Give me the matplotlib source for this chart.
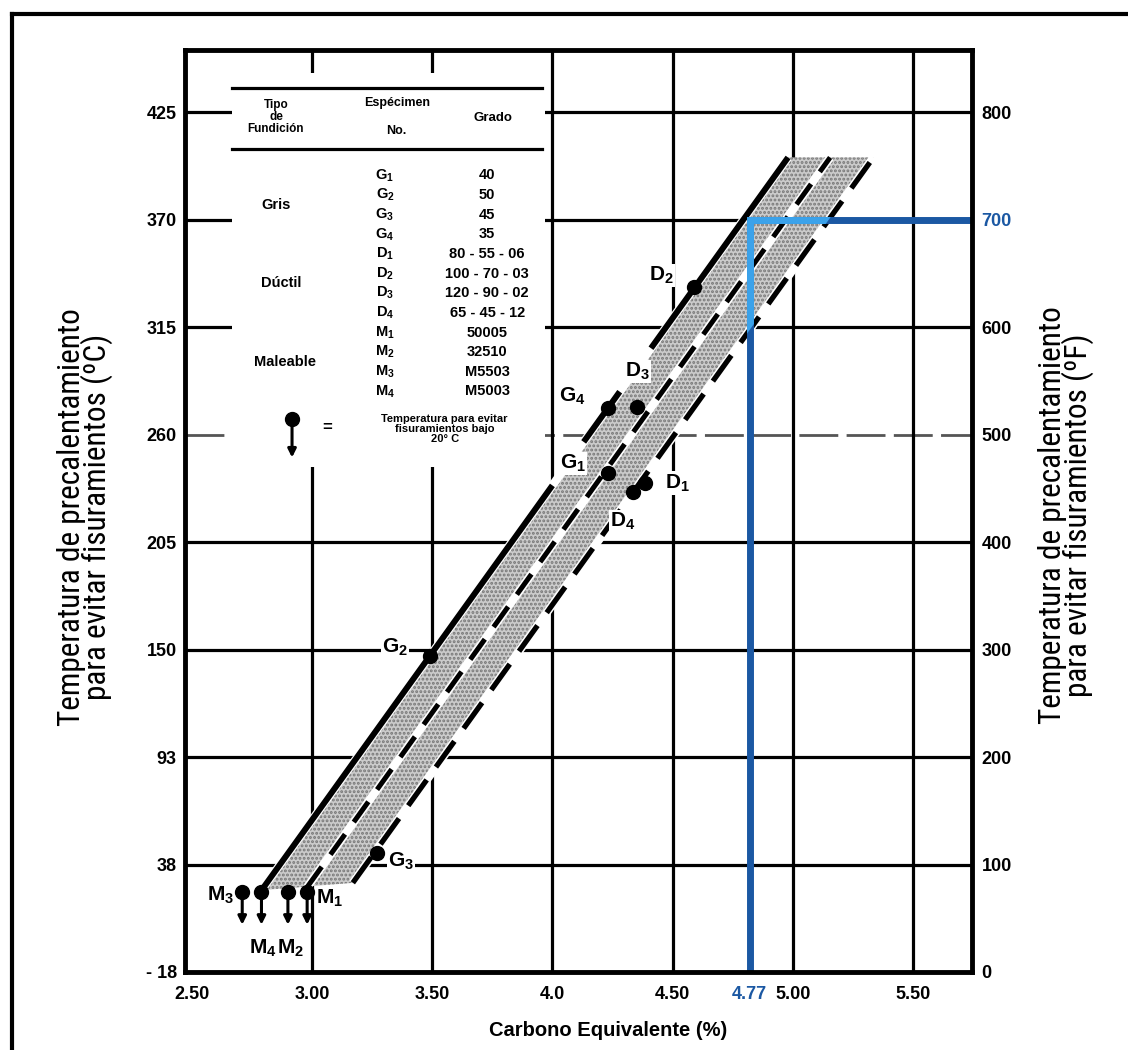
import matplotlib
matplotlib.use("Agg")
import matplotlib.pyplot as plt
import numpy as np
from matplotlib import font_manager
from matplotlib.lines import Line2D
from matplotlib.patches import Polygon, Rectangle

# ---------------------------------------------------------------------------
# Data
# ---------------------------------------------------------------------------
F_TICKS = [0, 100, 200, 300, 400, 500, 600, 700, 800]            # °F (right axis)
C_LABELS = ["- 18", "38", "93", "150", "205", "260", "315", "370", "425"]
F_LABELS = ["0", "100", "200", "300", "400", "500", "600", "700", "800"]
CE_TICKS = [2.5, 3.0, 3.5, 4.0, 4.5, 5.0, 5.5]
CE_LABELS = ["2.50", "3.00", "3.50", "4.0", "4.50", "5.00", "5.50"]

# boundary lines of the band: CE and °F at bottom / top end
UPPER_CE, UPPER_F = [2.79, 4.98], [76, 758]
MID_CE, MID_F = [2.98, 5.155], [79, 758]
LOWER_CE, LOWER_F = [3.17, 5.335], [83, 758]
UPPER_SEGMENTS = [(2.79, 4.00), (4.13, 4.28), (4.41, 4.98)]

POINT_IDS = ["G1", "G2", "G3", "G4", "D1", "D2", "D3", "D4"]
POINT_CE = [4.23, 3.49, 3.27, 4.23, 4.385, 4.59, 4.35, 4.335]
POINT_F = [464, 294, 111, 525, 455, 637, 526, 447]

M_IDS = ["M1", "M2", "M3", "M4"]
M_CE = [2.98, 2.90, 2.71, 2.79]
M_F = [74, 74, 74, 74]

# reading drawn in blue
CE_READ_LABEL = "4.77"
CE_READ_X = 4.82
F_READ = 700

# legend table
TABLE_IDS = ["G1", "G2", "G3", "G4", "D1", "D2", "D3", "D4", "M1", "M2", "M3", "M4"]
TABLE_GRADES = ["40", "50", "45", "35", "80 - 55 - 06", "100 - 70 - 03",
                "120 - 90 - 02", "65 - 45 - 12", "50005", "32510", "M5503", "M5003"]
TABLE_GROUPS = ["Gris", "Dúctil", "Maleable"]

# label offsets in pixels
LABEL_OFFSETS = {
    "G1": (-35, 10), "G2": (-35, 9), "G3": (24, -9), "G4": (-35, 11),
    "D1": (32, 0), "D2": (-33, 12), "D3": (1, 35), "D4": (-10, -30),
    "M1": (22, -6), "M2": (3, -56), "M3": (-22, -3), "M4": (1, -56),
}

BLUE_DARK = "#1b58a3"
BLUE_LIGHT = "#3ba2ea"

# condensed family for the axis titles, if one is installed
fonts = font_manager.fontManager.ttflist
names = {f.name for f in fonts}
label_font = dict(family=["DejaVu Sans"])
for cand in ["Liberation Sans Narrow", "Roboto Condensed", "Open Sans Condensed",
             "Noto Sans Display Condensed", "Arial Narrow"]:
    if cand in names:
        label_font = dict(family=[cand, "DejaVu Sans"])
        break
else:
    if any(f.name == "DejaVu Sans" and f.stretch == "condensed" for f in fonts):
        label_font = dict(family=["DejaVu Sans"], fontstretch="condensed")
    elif any(f.stretch == "condensed" and f.name in ("Noto Sans", "Open Sans", "Roboto")
             for f in fonts):
        fam = next(f.name for f in fonts if f.stretch == "condensed"
                   and f.name in ("Noto Sans", "Open Sans", "Roboto"))
        label_font = dict(family=[fam], fontstretch="condensed")

plt.rcParams["font.family"] = ["Liberation Sans", "DejaVu Sans"]
plt.rcParams["mathtext.fontset"] = "custom"
plt.rcParams["mathtext.bf"] = "Liberation Sans:bold"
plt.rcParams["mathtext.rm"] = "Liberation Sans:bold"
plt.rcParams["mathtext.default"] = "bf"
plt.rcParams["hatch.linewidth"] = 1.4


def sub(name):
    return r"$%s_{%s}$" % (name[0], name[1:])


def line_y(ce, xs, ys):
    return np.interp(ce, xs, ys)


fig = plt.figure(figsize=(11.28, 10.5), dpi=100)
ax = fig.add_axes([185 / 1128, 1 - 972 / 1050, 787 / 1128, 922 / 1050])
ax.set_xlim(2.472, 5.745)
ax.set_ylim(0, 858)

# --- grid ---
for f in F_TICKS[1:]:
    if f == 500:
        ax.axhline(f, color="#555555", lw=2.0, ls=(0, (14, 3)), zorder=1)
    else:
        ax.axhline(f, color="black", lw=2.3, zorder=1)
for ce in CE_TICKS[1:]:
    ax.axvline(ce, color="black", lw=2.3, zorder=1)

# --- band ---
band = Polygon(
    [(UPPER_CE[0], UPPER_F[0]), (UPPER_CE[1], UPPER_F[1]),
     (LOWER_CE[1], LOWER_F[1]), (LOWER_CE[0], LOWER_F[0])],
    closed=True, facecolor="#cbcbcb", edgecolor="#777777", hatch="....",
    linewidth=0, zorder=2,
)
ax.add_patch(band)

# white channels along the lines
for xs, ys in [(UPPER_CE, UPPER_F), (MID_CE, MID_F), (LOWER_CE, LOWER_F)]:
    ax.plot(xs, ys, color="white", lw=6, solid_capstyle="butt", zorder=3)

for a, b in UPPER_SEGMENTS:
    xs = np.array([a, b])
    ax.plot(xs, line_y(xs, UPPER_CE, UPPER_F), color="black", lw=4.3,
            solid_capstyle="butt", zorder=4)
ax.plot(MID_CE, MID_F, color="black", lw=3.6, ls=(0, (5, 3)),
        dash_capstyle="butt", zorder=4)
ax.plot(LOWER_CE, LOWER_F, color="black", lw=3.8, ls=(0, (6, 3)),
        dash_capstyle="butt", zorder=4)

# --- blue reading lines ---
xmax = ax.get_xlim()[1]
for color, clip in [(BLUE_DARK, False), (BLUE_LIGHT, True)]:
    v, = ax.plot([CE_READ_X, CE_READ_X], [0, F_READ], color=color, lw=5,
                 solid_capstyle="projecting", zorder=6)
    h, = ax.plot([CE_READ_X, xmax], [F_READ, F_READ], color=color, lw=5,
                 solid_capstyle="butt", zorder=6)
    if clip:
        v.set_clip_path(band)
        h.set_clip_path(band)

# --- points ---
label_box = dict(boxstyle="square,pad=0.05", facecolor="white", edgecolor="none")
ax.plot(POINT_CE, POINT_F, "o", color="black", ms=10, zorder=7)
for pid, x, y in zip(POINT_IDS, POINT_CE, POINT_F):
    ax.annotate(sub(pid), (x, y), xytext=LABEL_OFFSETS[pid], textcoords="offset pixels",
                ha="center", va="center", fontsize=15, zorder=8, bbox=label_box)

ax.plot(M_CE, M_F, "o", color="black", ms=10, zorder=7)
for mid, x, y in zip(M_IDS, M_CE, M_F):
    ax.annotate("", xy=(x, y - 30), xytext=(x, y),
                arrowprops=dict(arrowstyle="-|>", color="black", lw=2.2,
                                mutation_scale=12, shrinkA=0, shrinkB=0), zorder=7)
    ax.annotate(sub(mid), (x, y), xytext=LABEL_OFFSETS[mid], textcoords="offset pixels",
                ha="center", va="center", fontsize=15, zorder=8)

# --- legend table (axes fraction) ---
T = ax.transAxes
ax.add_patch(Rectangle((0.060, 0.548), 0.397, 0.427, transform=T, facecolor="white",
                       edgecolor="none", zorder=5))
for fy in (0.959, 0.893):
    ax.add_line(Line2D([0.060, 0.454], [fy, fy], transform=T, color="black", lw=2.3, zorder=6))

kw = dict(transform=T, ha="center", va="center", fontweight="bold", zorder=7)
ax.text(0.1156, 0.927, "Tipo\nde\nFundición", fontsize=8.5, linespacing=1.0, **kw)
ax.text(0.269, 0.943, "Espécimen", fontsize=9, **kw)
ax.text(0.269, 0.912, "No.", fontsize=9, **kw)
ax.text(0.391, 0.926, "Grado", fontsize=9.5, **kw)

row_y = 0.864 - 0.0213 * np.arange(len(TABLE_IDS))
for y, tid, grade in zip(row_y, TABLE_IDS, TABLE_GRADES):
    ax.text(0.254, y, sub(tid), fontsize=10.5, **kw)
    ax.text(0.384, y, grade, fontsize=10.5, **kw)
for i, grp in enumerate(TABLE_GROUPS):
    ax.text(0.1156 + 0.007 * min(i, 1) + 0.004 * (i == 2), row_y[4 * i:4 * i + 4].mean(),
            grp, fontsize=10.5, **kw)

ax.plot([0.136], [0.600], "o", color="black", ms=10, transform=T, zorder=7)
ax.annotate("", xy=(0.136, 0.558), xytext=(0.136, 0.600), xycoords=T,
            arrowprops=dict(arrowstyle="-|>", color="black", lw=2.2, mutation_scale=12,
                            shrinkA=0, shrinkB=0), zorder=7)
ax.text(0.180, 0.591, "=", fontsize=12, **kw)
ax.text(0.330, 0.589, "Temperatura para evitar\nfisuramientos bajo\n20° C",
        fontsize=8, linespacing=1.0, **kw)

# --- axes / ticks ---
for s in ax.spines.values():
    s.set_linewidth(3.5)
    s.set_zorder(9)

ax.set_xticks(CE_TICKS + [CE_READ_X])
ax.set_xticklabels(CE_LABELS + [CE_READ_LABEL], fontweight="bold", fontsize=13)
ax.get_xticklabels()[-1].set_color(BLUE_DARK)
ax.set_yticks(F_TICKS)
ax.set_yticklabels(C_LABELS, fontweight="bold", fontsize=13)
ax.tick_params(axis="x", length=0, pad=10)
ax.tick_params(axis="y", length=0, pad=6)

ax2 = ax.twinx()
ax2.set_ylim(ax.get_ylim())
ax2.set_yticks(F_TICKS)
ax2.set_yticklabels(F_LABELS, fontweight="bold", fontsize=13)
ax2.get_yticklabels()[F_TICKS.index(F_READ)].set_color(BLUE_DARK)
ax2.tick_params(axis="y", length=0, pad=7)
ax2.set_frame_on(False)

fig.text(608 / 1128, 1 - 1030 / 1050, "Carbono Equivalente (%)", ha="center", va="center",
         fontsize=14.5, fontweight="bold")
fig.text(85 / 1128, 1 - 517 / 1050,
         "Temperatura de precalentamiento\npara evitar fisuramientos (ºC)",
         rotation=90, ha="center", va="center", fontsize=22.5, linespacing=0.8,
         **label_font)
fig.text(1066 / 1128, 1 - 515 / 1050,
         "Temperatura de precalentamiento\npara evitar fisuramientos (ºF)",
         rotation=90, ha="center", va="center", fontsize=22.5, linespacing=0.8,
         **label_font)

# outer frame (top and left only)
fig.add_artist(Line2D([12 / 1128, 1], [1 - 14 / 1050, 1 - 14 / 1050], color="black", lw=3))
fig.add_artist(Line2D([12 / 1128, 12 / 1128], [0, 1 - 14 / 1050], color="black", lw=3))

fig.savefig("out.png", dpi=100)
